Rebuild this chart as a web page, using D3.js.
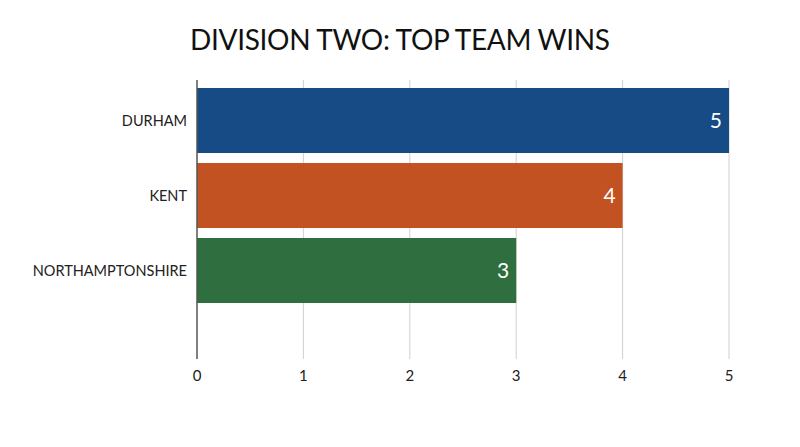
<!DOCTYPE html>
<html>
<head>
<meta charset="utf-8">
<script src="https://cdn.jsdelivr.net/npm/d3@7"></script>
<style>
    body { margin: 0; background: #fff; }
    text { font-family: Lato, "Open Sans", sans-serif; }
</style>
</head>
<body>
<script>
var teams = ["DURHAM", "KENT", "NORTHAMPTONSHIRE"];
var wins = [5, 4, 3];
var barColours = ["#174b85", "#c25221", "#2f6f3f"];
var xTicks = [0, 1, 2, 3, 4, 5];

function drawChart() {
    var width = 800, height = 447;
    var left = 197, right = 729, top = 80, bottom = 359;

    var svg = d3.select("body")
        .append("svg")
        .attr("width", width)
        .attr("height", height);

    var x = d3.scaleLinear().domain([0, 5]).range([left, right]);
    var y = d3.scaleBand()
        .domain(teams)
        .range([83, 308])
        .paddingInner(10 / 75)
        .paddingOuter(5 / 75);

    // title
    svg.append("text")
        .attr("x", width / 2)
        .attr("y", 50)
        .attr("text-anchor", "middle")
        .attr("font-size", 28)
        .attr("textLength", 420)
        .attr("fill", "#111")
        .text("DIVISION TWO: TOP TEAM WINS");

    // gridlines
    svg.selectAll(".grid")
        .data(xTicks.slice(1))
        .enter().append("line")
        .attr("x1", function (d) { return x(d); })
        .attr("x2", function (d) { return x(d); })
        .attr("y1", top)
        .attr("y2", bottom)
        .attr("stroke", "#d0d0d0")
        .attr("stroke-width", 1);

    // bars
    svg.selectAll(".bar")
        .data(teams)
        .enter().append("rect")
        .attr("x", x(0))
        .attr("y", function (d) { return y(d); })
        .attr("width", function (d, i) { return x(wins[i]) - x(0); })
        .attr("height", y.bandwidth())
        .attr("fill", function (d, i) { return barColours[i]; });

    // value labels
    svg.selectAll(".value")
        .data(teams)
        .enter().append("text")
        .attr("x", function (d, i) { return x(wins[i]) - 7; })
        .attr("y", function (d) { return y(d) + y.bandwidth() / 2; })
        .attr("dy", "0.35em")
        .attr("text-anchor", "end")
        .attr("font-size", 21)
        .attr("fill", "#fff")
        .text(function (d, i) { return wins[i]; });

    // category labels
    svg.selectAll(".cat")
        .data(teams)
        .enter().append("text")
        .attr("x", left - 10)
        .attr("y", function (d) { return y(d) + y.bandwidth() / 2; })
        .attr("dy", "0.35em")
        .attr("text-anchor", "end")
        .attr("font-size", 14.5)
        .attr("fill", "#222")
        .text(function (d) { return d; });

    // tick labels
    svg.selectAll(".tick-label")
        .data(xTicks)
        .enter().append("text")
        .attr("x", function (d) { return x(d); })
        .attr("y", 381)
        .attr("text-anchor", "middle")
        .attr("font-size", 15)
        .attr("fill", "#222")
        .text(function (d) { return d; });

    // y axis line
    svg.append("line")
        .attr("x1", left)
        .attr("x2", left)
        .attr("y1", top)
        .attr("y2", bottom)
        .attr("stroke", "#555")
        .attr("stroke-width", 1.5);
}

window.onload = function () {
    drawChart();
};
</script>
</body>
</html>
